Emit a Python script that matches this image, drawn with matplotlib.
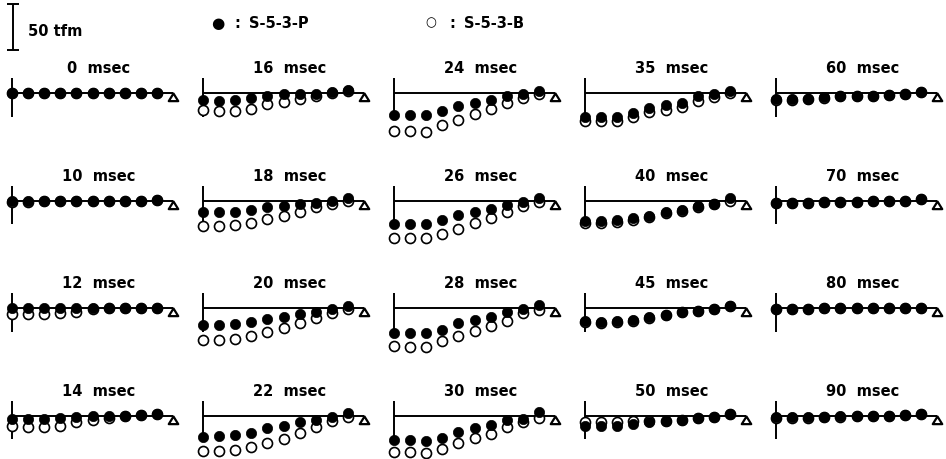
import matplotlib
matplotlib.use("Agg")
import matplotlib.pyplot as plt
from matplotlib.path import Path
from matplotlib.markers import MarkerStyle

# ---- data (deflection in tfm, positive = downward) ----
times = [0, 10, 12, 14, 16, 18, 20, 22, 24, 26, 28, 30, 35, 40, 45, 50, 60, 70, 80, 90]
titles = [f"{t}  msec" for t in times]
positions = list(range(10))

P = {
    0:  [0, 0, 0, 0, 0, 0, 0, 0, 0, 0],
    10: [0, 0, 0, 0, 0, 0, 0, 0, 0, -0.5],
    12: [0.5, 0.5, 0.5, 0, 0, 0, 0, 0, 0, -0.5],
    14: [3.3, 3.3, 3.3, 2.2, 1.1, 0, 0, 0, -0.5, -1.1],
    16: [7.6, 8.7, 7.6, 5.5, 3.3, 1.6, 1.1, 1.1, -1.1, -3.3],
    18: [13, 12, 12, 9.8, 7.6, 5.5, 3.3, 2.2, 0, -2.2],
    20: [18.5, 18.5, 17.4, 15.3, 12, 9.8, 6.5, 4.4, 1.1, -2.2],
    22: [23, 22, 21, 18.5, 14, 11, 7.6, 4.4, 1.1, -2.2],
    24: [24, 24, 24, 19.6, 14, 11, 7.6, 3.3, 1.1, -2.2],
    26: [25, 25, 25, 20.7, 15.3, 12, 8.7, 4.4, 1.1, -2.2],
    28: [27, 27, 27, 24, 16.4, 13, 9.8, 4.4, 1.1, -3.3],
    30: [27, 27, 28, 24, 17.4, 14, 9.8, 4.4, 3.3, -3.3],
    35: [26, 26, 26, 22, 16.4, 13, 11, 3.3, 1.1, -2.2],
    40: [22, 22, 21, 18.5, 16.4, 13, 9.8, 6.5, 3.3, -2.2],
    45: [14, 15.3, 14, 13, 9.8, 7.6, 4.4, 3.3, 1.1, -2.2],
    50: [11, 11, 11, 8.7, 7.6, 5.5, 4.4, 2.2, 1.1, -1.1],
    60: [6.5, 6.5, 6.5, 4.4, 3.3, 3.3, 3.3, 2.2, 1.1, -1.1],
    70: [2.2, 2.2, 2.2, 1.1, 1.1, 1.1, 0.5, 0, 0, -1.1],
    80: [1.1, 1.1, 1.1, 0.5, 0.5, 0, 0, 0, 0, -0.5],
    90: [1.1, 1.1, 1.1, 1.1, 0.5, 0, 0, 0, -0.5, -1.1],
}
B = {
    0:  [0, 0, 0, 0, 0, 0, 0, 0, 0, 0],
    10: [1.6, 1.1, 0.5, 0, 0, 0, 0, 0, 0, -0.5],
    12: [6.5, 6.5, 6.5, 5.5, 4.4, 1.1, 0, 0, 0, -0.5],
    14: [11, 13, 13, 11, 7.6, 4.4, 2.2, 0, -0.5, -1.1],
    16: [18.5, 19.6, 19.6, 17.4, 12, 9.8, 6.5, 3.3, 0, -2.2],
    18: [28, 28, 27, 24, 19.6, 16.4, 12, 7.6, 3.3, 0],
    20: [35, 35, 34, 30.5, 26, 22, 16.4, 11, 5.5, 1.1],
    22: [39, 39, 38, 34, 29.4, 25, 18.5, 13, 6.5, 1.1],
    24: [41, 41, 42.5, 35, 29.4, 23, 17.4, 11, 5.5, 1.1],
    26: [41, 41, 41, 36, 30.5, 24, 18.5, 12, 5.5, 1.1],
    28: [41, 42.5, 42.5, 36, 30.5, 25, 19.6, 14, 5.5, 2.2],
    30: [40, 40, 41, 36, 29.4, 24, 19.6, 13, 7.6, 2.2],
    35: [30.5, 30.5, 30.5, 26, 20.7, 18.5, 15.3, 8.7, 4.4, 0],
    40: [24, 24, 23, 20.7, 17.4, 14, 11, 7.6, 3.3, 0],
    45: [14.7, 15.8, 14.7, 13.6, 10.4, 7.6, 4.4, 3.3, 1.1, -2.2],
    50: [7.6, 7.6, 7.6, 6.5, 6.5, 5.5, 4.4, 2.2, 1.1, -1.1],
    60: [7.6, 7.6, 6.5, 5.5, 3.3, 3.3, 3.3, 2.2, 1.1, -1.1],
    70: [2.7, 2.7, 2.2, 1.1, 1.1, 1.1, 0.5, 0, 0, -1.1],
    80: [1.6, 1.6, 1.1, 0.5, 0.5, 0, 0, 0, 0, -0.5],
    90: [2.7, 2.7, 2.2, 1.6, 1.1, 0.5, 0, 0, -0.5, -1.1],
}
series_labels = ["S-5-3-P", "S-5-3-B"]
scale_value = 50
scale_label = "50 tfm"

# ---- layout ----
W, H = 946, 460
fig = plt.figure(figsize=(W / 100, H / 100), dpi=100)
fig.patch.set_facecolor("white")

PX_PER_TFM = 0.92
PX_PER_UNIT = 16.1
XLIM = (-0.6, 10.6)
YLIM = (-45, 20)
ax_w = (XLIM[1] - XLIM[0]) * PX_PER_UNIT
ax_h = (YLIM[1] - YLIM[0]) * PX_PER_TFM

tri = MarkerStyle(Path([(0, 0), (-0.62, -1), (0.62, -1), (0, 0)],
                       [Path.MOVETO, Path.LINETO, Path.LINETO, Path.CLOSEPOLY]))

FONT = "DejaVu Sans"

def add_axes_px(left, top, w, h):
    return fig.add_axes([left / W, 1 - (top + h) / H, w / W, h / H])

for idx, t in enumerate(times):
    col, row = divmod(idx, 4)
    x0 = 12 + 191 * col
    base = 94 + 107.5 * row
    ax = add_axes_px(x0 + XLIM[0] * PX_PER_UNIT, base - YLIM[1] * PX_PER_TFM, ax_w, ax_h)
    ax.set_xlim(*XLIM)
    ax.set_ylim(*YLIM)
    ax.axis("off")
    # baseline and support
    ax.plot([0, 10], [0, 0], color="black", lw=1.4, solid_capstyle="butt", zorder=1)
    ax.plot([0, 0], [16, -26], color="black", lw=1.4, solid_capstyle="butt", zorder=1)
    ax.plot([10], [0], marker=tri, markersize=11, markerfacecolor="white",
            markeredgecolor="black", markeredgewidth=1.6, linestyle="none", zorder=2,
            clip_on=False)
    ax.plot(positions, [-v for v in B[t]], "o", markersize=7.2, markerfacecolor="white",
            markeredgecolor="black", markeredgewidth=1.2, zorder=3, clip_on=False)
    ax.plot(positions, [-v for v in P[t]], "o", markersize=7.4, markerfacecolor="black",
            markeredgecolor="black", markeredgewidth=0.5, zorder=4, clip_on=False)
    ax.text(5.4, 27.5, titles[idx], ha="center", va="center", fontsize=10.5,
            fontweight="bold", family=FONT, clip_on=False)

# ---- header: scale bar and legend ----
hax = add_axes_px(0, 5, 30, scale_value * PX_PER_TFM)
hax.set_xlim(-1, 1)
hax.set_ylim(0, scale_value)
hax.axis("off")
hax.errorbar([-0.13], [scale_value / 2], yerr=[scale_value / 2], fmt="none",
             ecolor="black", elinewidth=1.4, capsize=4, capthick=1.4, clip_on=False)
fig.text(28 / W, 1 - 32 / H, scale_label, ha="left", va="center", fontsize=10.5,
         fontweight="bold", family=FONT)

fig.text(211 / W, 1 - 24 / H, "\u25CF", ha="left", va="center", fontsize=11, family=FONT)
fig.text(234 / W, 1 - 24 / H, ":", ha="left", va="center", fontsize=10.5,
         fontweight="bold", family=FONT)
fig.text(249 / W, 1 - 24 / H, series_labels[0], ha="left", va="center", fontsize=10.5,
         fontweight="bold", family=FONT)
fig.text(425 / W, 1 - 23 / H, "\u25CB", ha="left", va="center", fontsize=9, family=FONT)
fig.text(449 / W, 1 - 23 / H, ":", ha="left", va="center", fontsize=10.5,
         fontweight="bold", family=FONT)
fig.text(464 / W, 1 - 23 / H, series_labels[1], ha="left", va="center", fontsize=10.5,
         fontweight="bold", family=FONT)

fig.savefig("out.png", dpi=100, facecolor="white")
